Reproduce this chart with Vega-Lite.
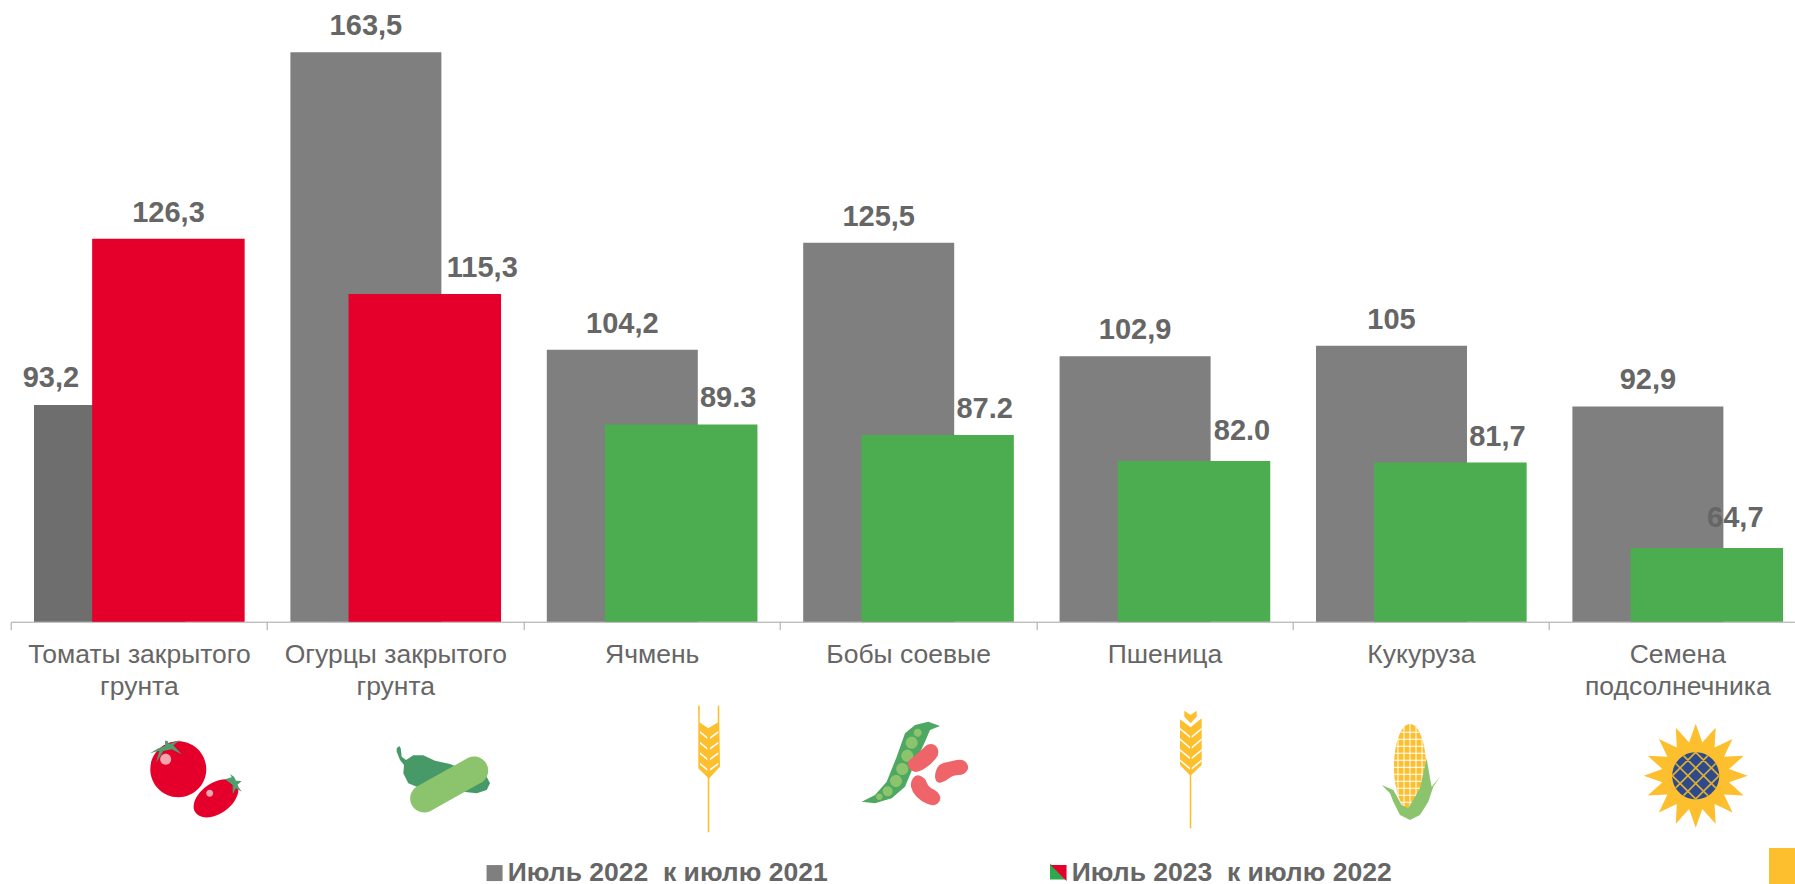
{"$schema":"https://vega.github.io/schema/vega-lite/v6.json","autosize":{"type":"none"},"width":1784.3,"height":621,"padding":{"left":10.7,"right":0,"top":0.7,"bottom":262.3},"background":"white","config":{"view":{"stroke":null},"font":"Liberation Sans"},"datasets":{"bars":[{"category":"Томаты закрытого грунта","series":"Июль 2022  к июлю 2021","value":93.2,"label":"93,2"},{"category":"Огурцы закрытого грунта","series":"Июль 2022  к июлю 2021","value":163.5,"label":"163,5"},{"category":"Ячмень","series":"Июль 2022  к июлю 2021","value":104.2,"label":"104,2"},{"category":"Бобы соевые","series":"Июль 2022  к июлю 2021","value":125.5,"label":"125,5"},{"category":"Пшеница","series":"Июль 2022  к июлю 2021","value":102.9,"label":"102,9"},{"category":"Кукуруза","series":"Июль 2022  к июлю 2021","value":105,"label":"105"},{"category":"Семена подсолнечника","series":"Июль 2022  к июлю 2021","value":92.9,"label":"92,9"},{"category":"Томаты закрытого грунта","series":"Июль 2023  к июлю 2022","value":126.3,"label":"126,3"},{"category":"Огурцы закрытого грунта","series":"Июль 2023  к июлю 2022","value":115.3,"label":"115,3"},{"category":"Ячмень","series":"Июль 2023  к июлю 2022","value":89.3,"label":"89.3"},{"category":"Бобы соевые","series":"Июль 2023  к июлю 2022","value":87.2,"label":"87.2"},{"category":"Пшеница","series":"Июль 2023  к июлю 2022","value":82.0,"label":"82.0"},{"category":"Кукуруза","series":"Июль 2023  к июлю 2022","value":81.7,"label":"81,7"},{"category":"Семена подсолнечника","series":"Июль 2023  к июлю 2022","value":64.7,"label":"64,7"}],"icons":[{"category":"Томаты закрытого грунта","part":"tomatoRed"},{"category":"Томаты закрытого грунта","part":"tomatoLight"},{"category":"Томаты закрытого грунта","part":"tomatoLeaf"},{"category":"Огурцы закрытого грунта","part":"pepper"},{"category":"Огурцы закрытого грунта","part":"cucumber"},{"category":"Ячмень","part":"barley"},{"category":"Ячмень","part":"barleyGaps"},{"category":"Бобы соевые","part":"pod"},{"category":"Бобы соевые","part":"peas"},{"category":"Бобы соевые","part":"beans"},{"category":"Пшеница","part":"wheat"},{"category":"Пшеница","part":"wheatGaps"},{"category":"Кукуруза","part":"corn"},{"category":"Кукуруза","part":"cornGrid"},{"category":"Кукуруза","part":"husk"},{"category":"Семена подсолнечника","part":"petals"},{"category":"Семена подсолнечника","part":"disk"},{"category":"Семена подсолнечника","part":"lattice"},{"category":"Семена подсолнечника","part":"corner"},{"category":"Бобы соевые","part":"swatchGreen"}]},"data":{"name":"bars"},"encoding":{"x":{"field":"category","type":"nominal","sort":null,"title":null,"scale":{"type":"band","domain":["Томаты закрытого грунта","Огурцы закрытого грунта","Ячмень","Бобы соевые","Пшеница","Кукуруза","Семена подсолнечника"],"range":[0,1794.8],"paddingInner":0,"paddingOuter":0},"axis":{"labelAngle":0,"tickBand":"extent","tickSize":8,"tickColor":"#a6a6a6","domainColor":"#a6a6a6","tickWidth":1,"domainWidth":1,"labelFont":"Liberation Sans","labelFontSize":26.5,"labelColor":"#666666","labelPadding":12,"labelLimit":400,"labelLineHeight":32,"labelExpr":"length(datum.label)>12 ? [slice(datum.label,0,lastindexof(datum.label,' ')),slice(datum.label,lastindexof(datum.label,' ')+1)] : datum.label"}}},"layer":[{"encoding":{"y":{"field":"value","type":"quantitative","title":null,"scale":{"domain":[50,173.75],"nice":false,"zero":false},"axis":null}},"layer":[{"transform":[{"filter":"datum.series=='Июль 2022  к июлю 2021'"}],"mark":{"type":"bar","size":151,"xOffset":-29.4},"encoding":{"y2":{"datum":50},"color":{"condition":[{"test":"datum.category=='Томаты закрытого грунта'","value":"#6e6e6e"}],"field":"series","type":"nominal","title":null,"scale":{"domain":["Июль 2022  к июлю 2021","Июль 2023  к июлю 2022"],"range":["#7f7f7f","#e4002b"]},"legend":{"orient":"none","legendX":470.6,"legendY":859,"direction":"horizontal","columns":2,"columnPadding":217,"padding":0,"symbolType":"square","symbolSize":256,"symbolStrokeWidth":0,"labelFont":"Liberation Sans","labelFontSize":26.5,"labelFontWeight":"bold","labelColor":"#666666","labelLimit":0,"labelOffset":0,"labelExpr":"replace(datum.label,'  ','\u00a0 ')","encode":{"symbols":{"update":{"shape":{"signal":"indexof(datum.value,'2023')>=0 ? 'M-1 -1L1 -1L1 1Z' : 'square'"}}}}}}}},{"transform":[{"filter":"datum.series=='Июль 2023  к июлю 2022'"}],"mark":{"type":"bar","size":152.5,"xOffset":29.5},"encoding":{"y2":{"datum":50},"color":{"condition":[{"test":"datum.value<100","value":"#4cac50"}],"field":"series","type":"nominal","title":null,"scale":{"domain":["Июль 2022  к июлю 2021","Июль 2023  к июлю 2022"],"range":["#7f7f7f","#e4002b"]}}}},{"transform":[{"filter":"datum.series=='Июль 2022  к июлю 2021' && datum.value!=93.2"}],"mark":{"type":"text","fontSize":29,"fontWeight":"bold","font":"Liberation Sans","color":"#666666","baseline":"middle","dy":-26,"xOffset":-29.4},"encoding":{"text":{"field":"label"}}},{"transform":[{"filter":"datum.value==93.2"}],"mark":{"type":"text","fontSize":29,"fontWeight":"bold","font":"Liberation Sans","color":"#666666","baseline":"middle","dy":-27,"xOffset":-88},"encoding":{"text":{"field":"label"}}},{"transform":[{"filter":"datum.value==126.3"}],"mark":{"type":"text","fontSize":29,"fontWeight":"bold","font":"Liberation Sans","color":"#666666","baseline":"middle","dy":-26,"xOffset":29.6},"encoding":{"text":{"field":"label"}}},{"transform":[{"filter":"datum.value==115.3"}],"mark":{"type":"text","fontSize":29,"fontWeight":"bold","font":"Liberation Sans","color":"#666666","baseline":"middle","dy":-26,"xOffset":87},"encoding":{"text":{"field":"label"}}},{"transform":[{"filter":"datum.series=='Июль 2023  к июлю 2022' && datum.value<100 && datum.value>70 && datum.value!=82"}],"mark":{"type":"text","fontSize":29,"fontWeight":"bold","font":"Liberation Sans","color":"#666666","baseline":"middle","dy":-26,"xOffset":76.5},"encoding":{"text":{"field":"label"}}},{"transform":[{"filter":"datum.value==82"}],"mark":{"type":"text","fontSize":29,"fontWeight":"bold","font":"Liberation Sans","color":"#666666","baseline":"middle","dy":-30,"xOffset":77.5},"encoding":{"text":{"field":"label"}}},{"transform":[{"filter":"datum.value==64.7"}],"mark":{"type":"text","fontSize":29,"fontWeight":"bold","font":"Liberation Sans","color":"#666666","baseline":"middle","dy":-30,"xOffset":58},"encoding":{"text":{"field":"label"}}}]},{"data":{"name":"icons"},"mark":{"type":"point","filled":true,"size":4,"opacity":1,"strokeWidth":0,"yOffset":158.3},"encoding":{"y":{"datum":50,"scale":{"domain":[50,173.75],"nice":false,"zero":false},"axis":null},"fill":{"field":"part","type":"nominal","legend":null,"scale":{"domain":["tomatoRed","tomatoLight","tomatoLeaf","pepper","cucumber","barley","barleyGaps","pod","peas","beans","wheat","wheatGaps","corn","cornGrid","husk","petals","disk","lattice","corner","swatchGreen"],"range":["#e4002b","#f7a5ad","#4f9f6e","#479a68","#8cc46e","#fdbf2d","#ffffff","#4fa862","#8cc46e","#ee6468","#fdbf2d","#ffffff","#fdbf2d","#ffffff","#8cc46e","#fdbf2d","#2e4a8e","#e0b030","#fdbf2d","#2fa84f"]}},"shape":{"field":"part","type":"nominal","legend":null,"scale":{"domain":["tomatoRed","tomatoLight","tomatoLeaf","pepper","cucumber","barley","barleyGaps","pod","peas","beans","wheat","wheatGaps","corn","cornGrid","husk","petals","disk","lattice","corner","swatchGreen"],"range":["M11.4 -10.7A28 28 0 1 0 67.4 -10.7A28 28 0 1 0 11.4 -10.7ZM97.6 4A25 15 -35 1 0 56.6 32.6A25 15 -35 1 0 97.6 4Z","M21.3 -20.7A5.5 5.5 0 1 0 32.3 -20.7A5.5 5.5 0 1 0 21.3 -20.7ZM67.3 13.3A3.5 3.5 0 1 0 74.3 13.3A3.5 3.5 0 1 0 67.3 13.3Z","M11.1 -26.7L19.4 -31.7L26.1 -34L26.1 -39.3L28.4 -39.3L30.4 -36L41.1 -40L34.4 -34.7L42.8 -25.7L32.8 -30.7L24.4 -29L17.1 -17.3L20.4 -29.3ZM86.1 -0.7L92.8 -2.7L91.1 -6L95.1 -3.3L97.1 0.7L102.8 1L98.4 5L102.8 11.7L97.1 8.3L93.8 14L93.8 5Z","M1.4 -31.7L4 -34L5.4 -31.7L6.4 -23.3L10.7 -20L18 -24.7L28 -24.7L39.7 -19.3L54.7 -16L63 -12.7L91.4 -3.3L94.7 3.3L91.4 10L81.4 13.3L51.4 10L21.4 6.7L13 3.3L8 -6.7L8.7 -15L4.7 -20L1.4 -28.3Z","M34.8 31.2L86.5 2.2A14 14 0 0 0 72.9 -22.2L21.2 6.8A14 14 0 0 0 34.8 31.2Z","M46.6 -58.3L46.3 -74.3L48 -74.3L48 -57.4L56.6 -51.7L66 -57.4L66 -74.3L67.6 -74.3L67.6 -58.3L68.3 -13.3L57.6 -1.7L57.6 52.3L56 52.3L56 -2.5L46.6 -11.7Z","M48.3 -49L55.6 -43L55.6 -41L48.3 -47ZM58.3 -43L66.6 -49L66.6 -47L58.3 -41ZM48.3 -38.3L55.6 -32.3L55.6 -30.3L48.3 -36.3ZM58.3 -32.3L66.6 -38.3L66.6 -36.3L58.3 -30.3ZM48.3 -27.7L55.6 -21.7L55.6 -19.7L48.3 -25.7ZM58.3 -21.7L66.6 -27.7L66.6 -25.7L58.3 -19.7ZM48.3 -17.3L55.6 -11.3L55.6 -9.3L48.3 -15.3ZM58.3 -11.3L66.6 -17.3L66.6 -15.3L58.3 -9.3Z","M-46.4 21.7L-33.1 15L-21.4 1.7L-11.4 -23.3L-3.1 -46.7L6.9 -55L20.2 -58.3L31.9 -54L21.9 -50L16.9 -38.3L5.2 -13.3L-3.1 6.7L-16.4 18.3L-33.1 23.3Z","M5.6 -47.3A4 4 0 1 0 13.6 -47.3A4 4 0 1 0 5.6 -47.3ZM-2.4 -37.3A6 6 0 1 0 9.6 -37.3A6 6 0 1 0 -2.4 -37.3ZM-6.8 -24.3A6 6 0 1 0 5.2 -24.3A6 6 0 1 0 -6.8 -24.3ZM-11.8 -11A6 6 0 1 0 0.2 -11A6 6 0 1 0 -11.8 -11ZM-18.1 1A6 6 0 1 0 -6.1 1A6 6 0 1 0 -18.1 1ZM-25.4 11.3A5 5 0 1 0 -15.4 11.3A5 5 0 1 0 -25.4 11.3ZM-32.1 16.7A3.3 3.3 0 1 0 -25.5 16.7A3.3 3.3 0 1 0 -32.1 16.7Z","M1 -12.2Q-2 -17 1.6 -20Q5.2 -22.7 9.4 -26.4Q13.6 -30 16.8 -33.5Q20 -37 24.5 -35.7Q29 -34.5 30 -29.7Q31 -25 27.3 -20.9Q23.6 -16.7 18.8 -12.9Q14 -9 9 -8.2Q4 -7.5 1 -12.2ZM27.5 -0.5Q26 -4.5 28.3 -10.3Q30.5 -16 36.2 -17.2Q41.9 -18.3 48.5 -19.9Q55 -21.5 58.3 -17.3Q61.5 -13 58.8 -9Q56 -5 50.6 -5Q45.2 -5 41 -1.7Q36.9 1.7 33 2.6Q29 3.5 27.5 -0.5ZM3 7Q2 2 5 -2Q8 -6 12.5 -4Q17 -2 18.6 2.4Q20.2 6.7 25.6 9.6Q31 12.5 32 16.8Q33 21 29.3 23.8Q25.5 26.5 19 23.8Q12.5 21 8.3 16.5Q4 12 3 7Z","M19.8 -69.3L26.2 -65L32.2 -69.3L32.2 -63.3L26.2 -56.7L19.8 -63.3ZM15.5 -60.7L26.2 -52.7L37.2 -61.7L37.2 -15L26.8 -5L26.8 48.3L25.2 48.3L25.2 -5L15.5 -15Z","M15.5 -52.3L25.5 -44L25.5 -42L15.5 -50.3ZM27.2 -44L37.2 -52.3L37.2 -50.3L27.2 -42ZM15.5 -41.7L25.5 -33.3L25.5 -31.3L15.5 -39.7ZM27.2 -33.3L37.2 -41.7L37.2 -39.7L27.2 -31.3ZM15.5 -31L25.5 -22.7L25.5 -20.7L15.5 -29ZM27.2 -22.7L37.2 -31L37.2 -29L27.2 -20.7ZM15.5 -20.7L25.5 -12.3L25.5 -10.3L15.5 -18.7ZM27.2 -12.3L37.2 -20.7L37.2 -18.7L27.2 -10.3Z","M-26.9 -13.3A16 42.7 0 1 0 5.1 -13.3A16 42.7 0 1 0 -26.9 -13.3Z","M-20.1 -48.3H-1.7V-47.3H-20.1ZM-22.9 -41.3H1.1V-40.3H-22.9ZM-24.8 -34.3H3V-33.3H-24.8ZM-26 -27.3H4.2V-26.3H-26ZM-26.7 -20.3H4.9V-19.3H-26.7ZM-26.9 -13.3H5.1V-12.3H-26.9ZM-26.7 -6.3H4.9V-5.3H-26.7ZM-26 0.7H4.2V1.7H-26ZM-24.8 7.7H3V8.7H-24.8ZM-22.9 14.7H1.1V15.7H-22.9ZM-20.1 21.7H-1.7V22.7H-20.1ZM-11.4 -56H-10.4V29.4H-11.4ZM-17.4 -52.9H-16.4V26.3H-17.4ZM-5.4 -52.9H-4.4V26.3H-5.4ZM-23.4 -41.5H-22.4V14.9H-23.4ZM0.6 -41.5H1.6V14.9H0.6Z","M-39.2 5L-27.6 10L-19.2 25L-12.6 28.3L-0.9 8.3L5.8 -21.7L9.1 -1.7L10.8 6.7L19.1 -3.3L12.4 6.7L7.4 21.7L-0.9 35L-10.9 40L-20.9 35L-27.6 21.7L-30.9 13.3Z","M18.4 -56.3L25 -37.6L38.3 -52.3L37.3 -32.6L55.2 -41.1L46.7 -23.2L66.4 -24.2L51.7 -10.9L70.4 -4.3L51.7 2.3L66.4 15.6L46.7 14.6L55.2 32.5L37.3 24L38.3 43.7L25 29L18.4 47.7L11.8 29L-1.5 43.7L-0.5 24L-18.4 32.5L-9.9 14.6L-29.6 15.6L-14.9 2.3L-33.6 -4.3L-14.9 -10.9L-29.6 -24.2L-9.9 -23.2L-18.4 -41.1L-0.5 -32.6L-1.5 -52.3L11.8 -37.6Z","M-5.1 -4.3A23.5 23.5 0 1 0 41.9 -4.3A23.5 23.5 0 1 0 -5.1 -4.3Z","M6.8 -24.9L39 7.3L37.8 8.5L5.6 -23.7ZM-1 -17.1L31.2 15.1L30 16.3L-2.2 -15.9ZM18.9 -28.4L42.5 -4.8L41.3 -3.6L17.7 -27.2ZM-4.5 -5L19.1 18.6L17.9 19.8L-5.7 -3.8ZM31.2 -23.7L-1 8.5L-2.2 7.3L30 -24.9ZM39 -15.9L6.8 16.3L5.6 15.1L37.8 -17.1ZM19.1 -27.2L-4.5 -3.6L-5.7 -4.8L17.9 -28.4ZM42.5 -3.8L18.9 19.8L17.7 18.6L41.3 -5Z","M91.7 68H120V104H91.7Z","M141.9 83.5L157.9 99.5L141.9 99.5Z"]}}}}]}
